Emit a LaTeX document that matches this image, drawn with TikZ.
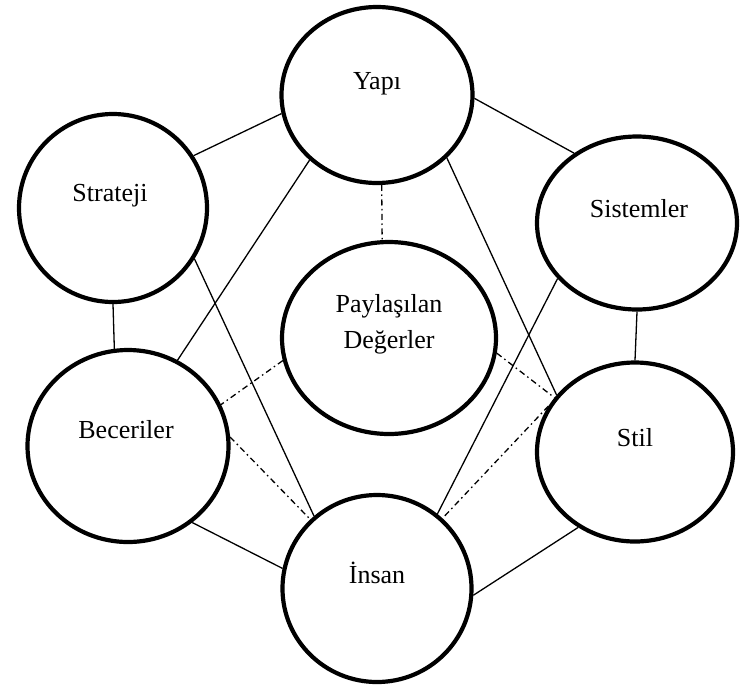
\documentclass[tikz,border=0pt]{standalone}
\usepackage{fontspec}
\setmainfont{Liberation Serif}
\usetikzlibrary{shapes.geometric}
\begin{document}
\begin{tikzpicture}[x=1pt,y=-1pt,
  oval/.style={ellipse,draw=black,line width=4.2pt,inner sep=0pt,fill=white},
  lbl/.style={anchor=base,inner sep=0pt,font=\fontsize{26}{30}\selectfont},
  conn/.style={line width=1.3pt,black},
  dd/.style={line width=1.3pt,black,dash pattern=on 6pt off 3.5pt on 1.5pt off 3.5pt}]
\fill[white] (0,0) rectangle (741,689);
\useasboundingbox (0,0) rectangle (741,689);
\node[oval,minimum width=191pt,minimum height=176pt] (yapi) at (377,95) {};
\node[oval,minimum width=188pt,minimum height=188pt] (strateji) at (113,208) {};
\node[oval,minimum width=200pt,minimum height=173pt] (sistemler) at (637,223) {};
\node[oval,minimum width=214pt,minimum height=192pt] (paylasilan) at (389,338) {};
\node[oval,minimum width=201pt,minimum height=192pt] (beceriler) at (128,446) {};
\node[oval,minimum width=196pt,minimum height=179pt] (stil) at (635,452) {};
\node[oval,minimum width=189pt,minimum height=187pt] (insan) at (377,588.5) {};
% solid connectors
\draw[conn] (yapi.191.6) -- (strateji.33.7);
\draw[conn] (yapi.-2.3) -- (sistemler.132.8);
\draw[conn] (strateji.270) -- (beceriler.98.9);
\draw[conn] (sistemler.270) -- (stil.90);
\draw[conn] (yapi.224.6) -- (beceriler.60.6);
\draw[conn] (yapi.-42.5) -- (stil.144.7);
\draw[conn] (strateji.-32.4) -- (insan.131);
\draw[conn] (sistemler.215) -- (insan.51);
\draw[conn] (beceriler.-50.9) -- (insan.168);
\draw[conn] (stil.233.8) -- (insan.-4.4);
% dash-dot connectors
\draw[dd] (yapi.273) -- (paylasilan.94);
\draw[dd] (paylasilan.192.9) -- (beceriler.24);
\draw[dd] (paylasilan.-8.4) -- (stil.146.9);
\draw[dd] (beceriler.5.5) -- (insan.134.4);
\draw[dd] (stil.152.6) -- (insan.47);
% labels
\node[lbl] (t-yapi) at (377,89) {Yapı};
\node[lbl] (t-strateji) at (110,201) {Strateji};
\node[lbl] (t-sistemler) at (639,217) {Sistemler};
\node[lbl] (t-pay1) at (389,312) {Paylaşılan};
\node[lbl] (t-pay2) at (389,348) {Değerler};
\node[lbl] (t-beceriler) at (126,438) {Beceriler};
\node[lbl] (t-stil) at (635,446) {Stil};
\node[lbl] (t-insan) at (377,583) {İnsan};
\end{tikzpicture}
\end{document}
